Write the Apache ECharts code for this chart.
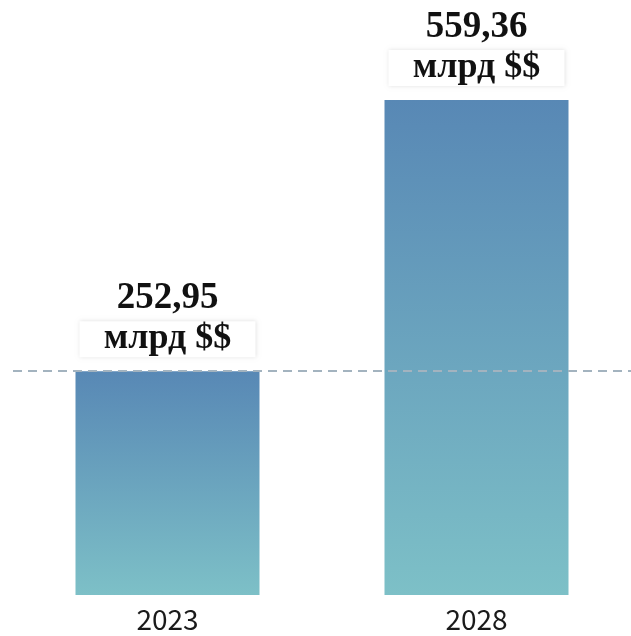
<!DOCTYPE html>
<html>
<head>
<meta charset="utf-8">
<style>
  html, body { margin: 0; padding: 0; background: #ffffff; }
  #chart { width: 631px; height: 636px; }
</style>
<script src="https://cdn.jsdelivr.net/npm/echarts@6/dist/echarts.min.js"></script>
</head>
<body>
<div id="chart"></div>
<script>
// Market size, billions of dollars
const years = ['2023', '2028'];
const values = [252.95, 559.36];
const unitText = 'млрд $$';
// Reference level drawn as a dashed line (the 2023 value)
const referenceLevel = values[0];

function formatValue(v) {
  return v.toFixed(2).replace('.', ',');
}

const serif = '"Liberation Serif", "Times New Roman", serif';

const chart = echarts.init(document.getElementById('chart'), null, { renderer: 'canvas' });

chart.setOption({
  backgroundColor: '#ffffff',
  animation: false,
  grid: { left: 13, width: 620, top: 64, bottom: 41, containLabel: false },
  xAxis: {
    type: 'category',
    data: years,
    axisLine: { show: false },
    axisTick: { show: false },
    axisLabel: {
      margin: 10,
      color: '#1a1a1a',
      fontSize: 28,
      fontFamily: '"Noto Sans CJK SC", "Noto Sans", sans-serif'
    }
  },
  yAxis: {
    type: 'value',
    min: 0,
    max: 600,
    show: false,
    splitLine: { show: false }
  },
  series: [{
    type: 'bar',
    data: values,
    barWidth: 184,
    itemStyle: {
      color: new echarts.graphic.LinearGradient(0, 0, 0, 1, [
        { offset: 0, color: '#5888b5' },
        { offset: 1, color: '#7dc0c7' }
      ])
    },
    label: {
      show: true,
      position: 'top',
      distance: 14,
      formatter: function (p) {
        return '{v|' + formatValue(p.value) + '}\n{u|' + unitText + '}';
      },
      rich: {
        v: {
          fontFamily: serif,
          fontWeight: 'bold',
          fontSize: 37,
          lineHeight: 46,
          color: '#111111',
          align: 'center'
        },
        u: {
          fontFamily: serif,
          fontWeight: 'bold',
          fontSize: 36,
          lineHeight: 36,
          color: '#111111',
          align: 'center',
          width: 176,
          backgroundColor: '#ffffff',
          shadowColor: 'rgba(0,0,0,0.12)',
          shadowBlur: 4
        }
      }
    },
    markLine: {
      silent: true,
      symbol: ['none', 'none'],
      label: { show: false },
      lineStyle: { color: '#a3b3bf', width: 2, type: [9, 6] },
      data: [{ yAxis: referenceLevel }]
    },
    z: 3
  }]
});
</script>
</body>
</html>
